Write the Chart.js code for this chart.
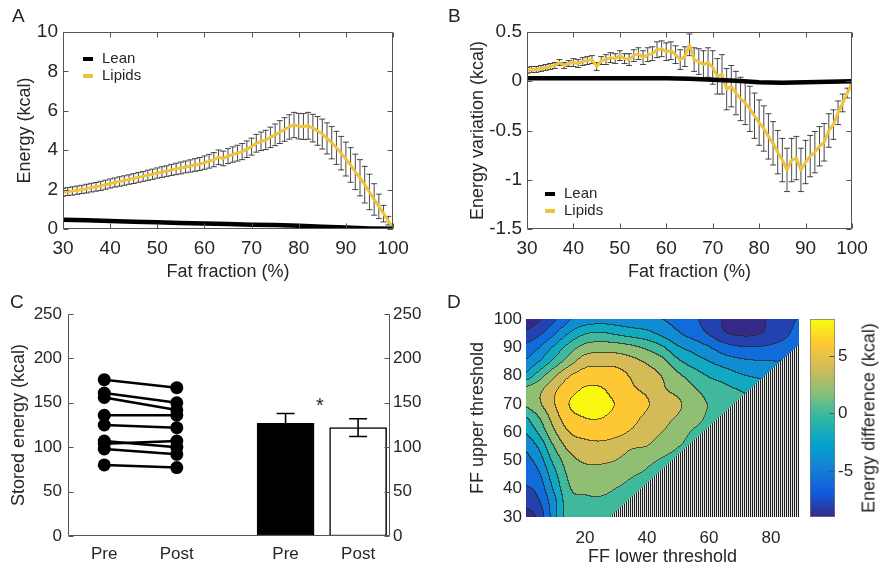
<!DOCTYPE html>
<html>
<head>
<meta charset="utf-8">
<script src="https://cdn.jsdelivr.net/npm/chart.js@4.4.1/dist/chart.umd.min.js"></script>
<style>
  html, body { margin: 0; padding: 0; background: #fff; }
  #fig { position: relative; width: 879px; height: 570px; overflow: hidden;
         font-family: "Liberation Sans", Arial, sans-serif; color: #262626; }
  #fig canvas { position: absolute; }
  .tag { position: absolute; font-size: 19px; line-height: 1; }
  .key { position: absolute; font-size: 15px; line-height: 17px; white-space: nowrap; }
  .key i { display: inline-block; width: 10px; height: 4px; margin-right: 9px; vertical-align: middle; }
  .note { position: absolute; font-size: 20px; line-height: 1; transform: translate(-50%, -50%); }
  .cbar-title { position: absolute; font-size: 18px; white-space: nowrap;
                transform: translate(-50%, -50%) rotate(-90deg); }
</style>
</head>
<body>
<div id="fig">
  <canvas id="panelA" width="440" height="290" style="left:0;top:0"></canvas>
  <canvas id="panelB" width="439" height="290" style="left:440px;top:0"></canvas>
  <canvas id="panelC" width="440" height="280" style="left:0;top:290px"></canvas>
  <canvas id="panelD" width="360" height="280" style="left:440px;top:290px"></canvas>
  <canvas id="panelDbar" width="79" height="280" style="left:800px;top:290px"></canvas>

  <div class="tag" style="left:12px;top:6px">A</div>
  <div class="tag" style="left:448px;top:6px">B</div>
  <div class="tag" style="left:10px;top:292px">C</div>
  <div class="tag" style="left:447px;top:292px">D</div>

  <div class="key" style="left:83px;top:49px">
    <div><i style="background:#000"></i>Lean</div>
    <div><i style="background:#efc33a"></i>Lipids</div>
  </div>
  <div class="key" style="left:545px;top:184px">
    <div><i style="background:#000"></i>Lean</div>
    <div><i style="background:#efc33a"></i>Lipids</div>
  </div>

  <div class="note" style="left:320px;top:405px">*</div>
  <div class="cbar-title" style="left:869px;top:418px">Energy difference (kcal)</div>
</div>

<script>
// ---- energy per fat fraction (panels A and B) ----
const fatFraction = [30,31,32,33,34,35,36,37,38,39,40,41,42,43,44,45,46,47,48,49,
  50,51,52,53,54,55,56,57,58,59,60,61,62,63,64,65,66,67,68,69,
  70,71,72,73,74,75,76,77,78,79,80,81,82,83,84,85,86,87,88,89,
  90,91,92,93,94,95,96,97,98,99,100];

const lipidsEnergy = [1.86,1.90,1.93,1.97,2.01,2.05,2.10,2.14,2.19,2.25,
  2.31,2.36,2.41,2.46,2.51,2.56,2.62,2.67,2.73,2.78,
  2.84,2.89,2.94,3.00,3.05,3.10,3.15,3.20,3.25,3.30,
  3.37,3.44,3.52,3.64,3.58,3.70,3.78,3.85,3.93,4.05,
  4.18,4.35,4.45,4.52,4.65,4.78,4.92,5.05,5.18,5.28,
  5.22,5.20,5.24,5.12,4.98,4.82,4.60,4.38,4.12,3.85,
  3.55,3.25,2.90,2.60,2.25,1.88,1.50,1.15,0.78,0.42,0.05];

const lipidsEnergySd = [0.20,0.20,0.21,0.21,0.21,0.22,0.22,0.22,0.23,0.23,
  0.23,0.23,0.24,0.24,0.24,0.25,0.25,0.25,0.26,0.26,
  0.26,0.27,0.27,0.28,0.29,0.30,0.30,0.31,0.32,0.33,
  0.34,0.35,0.36,0.37,0.37,0.38,0.39,0.40,0.41,0.42,
  0.43,0.45,0.47,0.49,0.52,0.55,0.58,0.60,0.62,0.64,
  0.65,0.66,0.68,0.70,0.73,0.76,0.79,0.82,0.84,0.85,
  0.86,0.88,0.90,0.92,0.93,0.90,0.80,0.62,0.42,0.22,0.06];

const leanFraction = [30,35,40,45,50,55,60,65,70,75,80,85,90,95,100];
const leanEnergy = [0.47,0.44,0.41,0.37,0.34,0.31,0.28,0.25,0.22,0.20,0.17,0.12,0.07,0.03,0.01];

const lipidsVariation = [0.11,0.12,0.12,0.13,0.14,0.15,0.16,0.19,0.16,0.18,
  0.19,0.18,0.20,0.21,0.22,0.15,0.21,0.22,0.24,0.23,
  0.26,0.23,0.22,0.26,0.28,0.24,0.27,0.28,0.32,0.33,
  0.30,0.31,0.27,0.22,0.25,0.37,0.22,0.20,0.17,0.19,
  0.14,0.05,0.07,-0.08,-0.05,-0.12,-0.18,-0.22,-0.28,-0.35,
  -0.42,-0.48,-0.56,-0.63,-0.72,-0.80,-0.90,-0.80,-0.78,-0.90,
  -0.82,-0.76,-0.72,-0.66,-0.62,-0.50,-0.44,-0.32,-0.22,-0.12,-0.02];

const lipidsVariationSd = [0.03,0.03,0.03,0.03,0.03,0.03,0.03,0.03,0.03,0.03,
  0.04,0.04,0.04,0.04,0.04,0.04,0.04,0.05,0.05,0.05,
  0.05,0.05,0.06,0.06,0.06,0.07,0.07,0.07,0.08,0.08,
  0.09,0.09,0.09,0.10,0.10,0.11,0.12,0.13,0.14,0.15,
  0.17,0.18,0.20,0.21,0.21,0.22,0.22,0.22,0.23,0.23,
  0.23,0.23,0.23,0.22,0.22,0.22,0.22,0.22,0.22,0.22,
  0.22,0.21,0.21,0.20,0.19,0.17,0.15,0.12,0.09,0.05,0.02];

const leanVariation = [0.03,0.03,0.03,0.03,0.03,0.03,0.03,0.025,0.015,0.005,-0.01,-0.015,-0.01,-0.005,0];

// ---- stored energy, pre vs post (panel C) ----
const storedPre = [176,161,156,136,125,107,104,98,80];
const storedPost = [167,150,142,136,122,100,107,92,77];
const storedMean = [126.9,122];
const storedSem = [11,10];
const pairX = [1,2];
const barX = [3.5,4.5];
const visitTicks = [1,2,3.5,4.5];
const visitLabels = ['Pre','Post','Pre','Post'];

// ---- threshold scan (panel D): rows are upper threshold, columns lower threshold ----
const lowerThreshold = [0,5,10,15,20,25,30,35,40,45,50,55,60,65,70,75,80,85,90];
const upperThreshold = [30,35,40,45,50,55,60,65,70,75,80,85,90,95,100];
const energyDiff = [
  [-8.9,-7.6,-3.0,1.0,0.9,0.8,0.6,0.5,0.5,0.5,0.5,0.5,0.5,0.5,0.5,0.5,0.5,0.5,0.5],
  [-7.6,-6.4,-2.8,1.2,1.5,1.6,1.2,0.8,0.5,0.5,0.5,0.5,0.5,0.5,0.5,0.5,0.5,0.5,0.5],
  [-6.3,-5.4,-1.8,1.8,2.4,2.5,2.0,1.5,0.9,0.5,0.5,0.5,0.5,0.5,0.5,0.5,0.5,0.5,0.5],
  [-5.5,-4.4,-0.8,2.4,3.0,3.1,2.8,2.2,1.7,1.0,0.5,0.5,0.5,0.5,0.5,0.5,0.5,0.5,0.5],
  [-4.8,-3.2,0.5,3.2,4.3,4.4,4.0,3.2,2.5,1.8,1.2,0.6,0.5,0.5,0.5,0.5,0.5,0.5,0.5],
  [-3.8,-1.8,2.0,4.6,5.3,5.5,5.1,4.3,4.0,3.0,2.1,1.3,0.8,0.5,0.5,0.5,0.5,0.5,0.5],
  [-2.2,0.2,3.6,6.0,6.8,7.0,6.6,5.8,4.8,4.0,3.0,1.8,1.2,0.8,0.5,0.5,0.5,0.5,0.5],
  [-0.4,1.8,4.8,7.3,8.0,8.05,7.5,6.6,5.6,4.6,3.8,2.8,1.7,1.2,0.8,0.5,0.5,0.5,0.5],
  [2.3,3.6,5.8,8.0,8.35,8.35,7.95,7.0,6.2,5.0,4.3,3.0,1.9,1.2,0.6,0.3,0.3,0.3,0.3],
  [2.4,3.4,5.5,7.3,8.15,8.15,7.4,6.3,5.6,4.3,3.4,2.3,1.2,0.5,-0.1,-0.6,-1.0,-1.4,-1.8],
  [-1.8,0.8,3.5,5.8,6.9,7.0,6.8,5.8,4.8,3.9,2.4,1.0,-0.2,-0.9,-1.8,-2.3,-2.6,-2.9,-3.1],
  [-4.0,-2.2,0.5,3.0,5.0,5.3,5.2,4.6,3.7,2.6,0.4,-1.0,-2.0,-3.0,-3.6,-3.9,-4.0,-4.0,-4.0],
  [-5.7,-4.2,-1.8,0.8,2.6,3.0,2.9,2.4,1.5,0.2,-1.8,-2.8,-3.9,-5.2,-5.9,-6.0,-5.7,-5.2,-4.6],
  [-7.8,-6.6,-4.4,-2.0,-0.3,0.1,-0.4,-1.0,-1.5,-2.6,-3.8,-4.9,-6.2,-7.8,-8.4,-8.3,-7.4,-6.3,-5.2],
  [-9.2,-8.3,-6.4,-4.2,-3.2,-2.9,-3.0,-3.3,-3.5,-4.0,-4.6,-5.6,-6.8,-8.2,-8.8,-8.6,-7.7,-6.6,-5.8]
];
const contourLevels = [-8,-6,-4,-2,0,2,4,6,8];
const colorLimits = [-9,8.2];
const colorTicks = [-5,0,5];
const lowerTicks = [20,40,60,80];
// invalid combinations (upper below lower threshold) are hatched
const maskLower = [28,89];
const maskUpper = [30,91];

const INK = '#262626';
const AXIS = '#555';
const GOLD = '#efc33a';
Chart.defaults.font.family = '"Liberation Sans", Arial, sans-serif';
Chart.defaults.color = INK;

// parula-like colormap stops
const parula = ['#352a87','#0f5cdd','#1481d6','#06a4ca','#2eb7a4','#87bf77','#d1bb59','#fec832','#f9fb0e'];
const parulaRgb = parula.map(h => [1,3,5].map(i => parseInt(h.substr(i,2),16)));

function colorAt(v) {
  let t = (v - colorLimits[0]) / (colorLimits[1] - colorLimits[0]);
  t = Math.min(1, Math.max(0, t)) * (parulaRgb.length - 1);
  const i = Math.min(parulaRgb.length - 2, Math.floor(t)), f = t - i;
  return parulaRgb[i].map((c, k) => Math.round(c + (parulaRgb[i+1][k] - c) * f));
}

// smooth (Catmull-Rom) lookup into the scan grid
function cubic(p0, p1, p2, p3, t) {
  return p1 + 0.5 * t * (p2 - p0 + t * (2*p0 - 5*p1 + 4*p2 - p3 + t * (3*(p1 - p2) + p3 - p0)));
}
function gridValue(xv, yv) {
  const locate = (arr, v) => {
    let i = 0;
    while (i < arr.length - 2 && v > arr[i+1]) i++;
    return [i, Math.min(1, Math.max(0, (v - arr[i]) / (arr[i+1] - arr[i])))];
  };
  const [i, fx] = locate(lowerThreshold, xv);
  const [j, fy] = locate(upperThreshold, yv);
  const nx = lowerThreshold.length, ny = upperThreshold.length;
  const at = (r, c) => energyDiff[Math.min(ny-1, Math.max(0, r))][Math.min(nx-1, Math.max(0, c))];
  const rows = [-1, 0, 1, 2].map(d =>
    cubic(at(j+d, i-1), at(j+d, i), at(j+d, i+1), at(j+d, i+2), fx));
  return cubic(rows[0], rows[1], rows[2], rows[3], fy);
}

// box lines and inward tick marks
const axesBox = {
  id: 'axesBox',
  afterDatasetsDraw(chart, args, o) {
    const {ctx, chartArea: a} = chart;
    const L = Math.round(a.left) + 0.5, R = Math.round(a.right) - 0.5;
    const T = Math.round(a.top) + 0.5, B = Math.round(a.bottom) - 0.5;
    const len = 5;
    ctx.save();
    ctx.strokeStyle = AXIS;
    ctx.lineWidth = 1;
    ctx.beginPath();
    const edges = o.edges || [];
    if (edges.includes('top')) { ctx.moveTo(L, T); ctx.lineTo(R, T); }
    if (edges.includes('bottom')) { ctx.moveTo(L, B); ctx.lineTo(R, B); }
    if (edges.includes('left')) { ctx.moveTo(L, T); ctx.lineTo(L, B); }
    if (edges.includes('right')) { ctx.moveTo(R, T); ctx.lineTo(R, B); }
    (o.ticks || []).forEach(({axis, sides}) => {
      const s = chart.scales[axis];
      s.ticks.forEach(t => {
        const p = Math.round(s.getPixelForValue(t.value)) + 0.5;
        sides.forEach(side => {
          if (side === 'bottom') { ctx.moveTo(p, B); ctx.lineTo(p, B - len); }
          if (side === 'top') { ctx.moveTo(p, T); ctx.lineTo(p, T + len); }
          if (side === 'left') { ctx.moveTo(L, p); ctx.lineTo(L + len, p); }
          if (side === 'right') { ctx.moveTo(R, p); ctx.lineTo(R - len, p); }
        });
      });
    });
    ctx.stroke();
    ctx.restore();
  }
};

// vertical error bars read from dataset.errors
function drawErrors(chart, index, layer) {
  const ds = chart.data.datasets[index];
  if (!ds.errors || (ds.errorLayer || 'under') !== layer) return;
  const meta = chart.getDatasetMeta(index);
  const xs = chart.scales[meta.xAxisID], ys = chart.scales[meta.yAxisID];
  const {ctx, chartArea: a} = chart;
  const cap = (ds.errorCap || 6) / 2;
  ctx.save();
  ctx.beginPath();
  ctx.rect(a.left, a.top - 2, a.right - a.left, a.bottom - a.top + 4);
  ctx.clip();
  ctx.strokeStyle = ds.errorColor || '#1a1a1a';
  ctx.lineWidth = ds.errorWidth || 0.8;
  ctx.beginPath();
  ds.data.forEach((p, i) => {
    const e = ds.errors[i];
    const px = xs.getPixelForValue(p.x);
    const top = ys.getPixelForValue(p.y + e), bot = ys.getPixelForValue(p.y - e);
    ctx.moveTo(px, top); ctx.lineTo(px, bot);
    ctx.moveTo(px - cap, top); ctx.lineTo(px + cap, top);
    ctx.moveTo(px - cap, bot); ctx.lineTo(px + cap, bot);
  });
  ctx.stroke();
  ctx.restore();
}
const errorBars = {
  id: 'errorBars',
  beforeDatasetDraw(chart, args) { drawErrors(chart, args.index, 'under'); },
  afterDatasetDraw(chart, args) { drawErrors(chart, args.index, 'over'); }
};

// filled contour bands with thin dark boundaries
const contourFill = {
  id: 'contourFill',
  beforeDatasetsDraw(chart) {
    const {ctx, chartArea: a, scales: {x, y}} = chart;
    const x0 = Math.round(a.left), y0 = Math.round(a.top);
    const w = Math.round(a.right) - x0, h = Math.round(a.bottom) - y0;
    const band = new Int8Array(w * h);
    for (let j = 0; j < h; j++) {
      const yv = y.getValueForPixel(y0 + j + 0.5);
      for (let i = 0; i < w; i++) {
        const v = gridValue(x.getValueForPixel(x0 + i + 0.5), yv);
        let k = 0;
        while (k < contourLevels.length && v >= contourLevels[k]) k++;
        band[j * w + i] = k;
      }
    }
    const palette = [colorAt(colorLimits[0])].concat(contourLevels.map(colorAt));
    const img = ctx.createImageData(w, h);
    for (let j = 0; j < h; j++) {
      for (let i = 0; i < w; i++) {
        const n = j * w + i, k = band[n];
        const edge = (i + 1 < w && band[n + 1] !== k) || (j + 1 < h && band[n + w] !== k);
        const c = palette[k];
        const o = n * 4;
        for (let q = 0; q < 3; q++) img.data[o + q] = edge ? Math.round(c[q] * 0.25 + 30) : c[q];
        img.data[o + 3] = 255;
      }
    }
    ctx.putImageData(img, x0, y0);
  }
};

function stripes() {
  const c = document.createElement('canvas');
  c.width = 2; c.height = 1;
  const g = c.getContext('2d');
  g.fillStyle = '#e6e6e6'; g.fillRect(0, 0, 2, 1);
  g.fillStyle = '#1e1e1e'; g.fillRect(0, 0, 1, 1);
  return g.createPattern(c, 'repeat');
}

const titleFont = {size: 18};
const noGrid = {display: false, drawTicks: false};
const plainLabel = v => String(v);

function energyPanel(id, o) {
  return new Chart(document.getElementById(id), {
    type: 'line',
    data: {
      datasets: [
        {
          data: leanFraction.map((f, i) => ({x: f, y: o.lean[i]})),
          borderColor: '#000', borderWidth: 4.5, pointRadius: 0
        },
        {
          data: fatFraction.map((f, i) => ({x: f, y: o.lipids[i]})),
          borderColor: GOLD, borderWidth: 3, pointRadius: 0, borderJoinStyle: 'round',
          errors: o.spread, errorCap: 6
        }
      ]
    },
    options: {
      responsive: false, animation: false,
      layout: {padding: {top: 32, right: o.right}},
      plugins: {
        legend: {display: false}, tooltip: {enabled: false},
        axesBox: {
          edges: ['top', 'bottom', 'left', 'right'],
          ticks: [{axis: 'x', sides: ['bottom', 'top']}, {axis: 'y', sides: ['left', 'right']}]
        }
      },
      scales: {
        x: {
          type: 'linear', min: 30, max: 100,
          ticks: {stepSize: 10, font: {size: 19}, padding: 8, maxRotation: 0, callback: plainLabel},
          grid: noGrid, border: {display: false},
          title: {display: true, text: 'Fat fraction (%)', font: titleFont, padding: {top: 0, bottom: 7}},
          afterFit: s => { s.height = 61; }
        },
        y: {
          min: o.yMin, max: o.yMax,
          ticks: {stepSize: o.yStep, font: {size: 19}, padding: 5, callback: plainLabel},
          grid: noGrid, border: {display: false},
          title: {display: true, text: o.yTitle, font: titleFont, padding: {top: o.titlePad, bottom: 0}},
          afterFit: s => { s.width = o.left; }
        }
      }
    },
    plugins: [axesBox, errorBars]
  });
}

energyPanel('panelA', {
  lean: leanEnergy, lipids: lipidsEnergy, spread: lipidsEnergySd,
  yMin: 0, yMax: 10, yStep: 2, yTitle: 'Energy (kcal)', titlePad: 14, left: 63, right: 47
});
energyPanel('panelB', {
  lean: leanVariation, lipids: lipidsVariation, spread: lipidsVariationSd,
  yMin: -1.5, yMax: 0.5, yStep: 0.5, yTitle: 'Energy variation (kcal)', titlePad: 27, left: 87, right: 27
});

// panel C: paired subjects on the left, group means on the right
new Chart(document.getElementById('panelC'), {
  type: 'bar',
  data: {
    datasets: storedPre.map((v, i) => ({
      type: 'line',
      data: [{x: pairX[0], y: v}, {x: pairX[1], y: storedPost[i]}],
      borderColor: '#000', borderWidth: 2.5,
      pointRadius: 6.5, pointBackgroundColor: '#000', pointBorderWidth: 0
    })).concat([{
      type: 'bar',
      data: barX.map((x, i) => ({x: x, y: storedMean[i]})),
      backgroundColor: ['#000', '#fff'], borderColor: '#000', borderWidth: 1.5,
      borderSkipped: false, barThickness: 57,
      errors: storedSem, errorLayer: 'over', errorCap: 18, errorWidth: 1.6, errorColor: '#000'
    }])
  },
  options: {
    responsive: false, animation: false,
    layout: {padding: {top: 24}},
    plugins: {
      legend: {display: false}, tooltip: {enabled: false},
      axesBox: {
        edges: ['left', 'bottom', 'right'],
        ticks: [{axis: 'y', sides: ['left']}, {axis: 'y2', sides: ['right']}]
      }
    },
    scales: {
      x: {
        type: 'linear', min: 0.5, max: 4.94, offset: false,
        afterBuildTicks: s => { s.ticks = visitTicks.map(v => ({value: v})); },
        ticks: {font: {size: 17}, padding: 8, autoSkip: false, maxRotation: 0,
                callback: v => visitLabels[visitTicks.indexOf(v)]},
        grid: noGrid, border: {display: false},
        afterFit: s => { s.height = 34; }
      },
      y: {
        min: 0, max: 250,
        ticks: {stepSize: 50, font: {size: 17}, padding: 6},
        grid: noGrid, border: {display: false},
        title: {display: true, text: 'Stored energy (kcal)', font: titleFont, padding: {top: 8, bottom: 0}},
        afterFit: s => { s.width = 68; }
      },
      y2: {
        position: 'right', min: 0, max: 250,
        ticks: {stepSize: 50, font: {size: 17}, padding: 3},
        grid: noGrid, border: {display: false},
        afterFit: s => { s.width = 50; }
      }
    }
  },
  plugins: [axesBox, errorBars]
});

// panel D: contour map of energy difference
new Chart(document.getElementById('panelD'), {
  type: 'line',
  data: {
    datasets: [{
      data: maskLower.map((x, i) => ({x: x, y: maskUpper[i]})),
      fill: 'start', backgroundColor: stripes(),
      borderColor: 'transparent', borderWidth: 0, pointRadius: 0
    }]
  },
  options: {
    responsive: false, animation: false,
    layout: {padding: {top: 29, right: 1}},
    plugins: {legend: {display: false}, tooltip: {enabled: false}},
    scales: {
      x: {
        type: 'linear', min: 1, max: 89,
        afterBuildTicks: s => { s.ticks = lowerTicks.map(v => ({value: v})); },
        ticks: {font: {size: 17}, padding: 11, maxRotation: 0},
        grid: noGrid, border: {display: false},
        title: {display: true, text: 'FF lower threshold', font: titleFont, padding: {top: 0, bottom: 2}},
        afterFit: s => { s.height = 53; }
      },
      y: {
        min: 30, max: 100,
        ticks: {stepSize: 10, font: {size: 17}, padding: 4},
        grid: noGrid, border: {display: false},
        title: {display: true, text: 'FF upper threshold', font: titleFont, padding: {top: 27, bottom: 0}},
        afterFit: s => { s.width = 86; }
      }
    }
  },
  plugins: [contourFill]
});

// colour bar for panel D
new Chart(document.getElementById('panelDbar'), {
  type: 'bar',
  data: {
    labels: [''],
    datasets: [{
      data: [colorLimits],
      backgroundColor: ctx => {
        const a = ctx.chart.chartArea;
        if (!a) return '#888';
        const g = ctx.chart.ctx.createLinearGradient(0, a.bottom, 0, a.top);
        parula.forEach((c, i) => g.addColorStop(i / (parula.length - 1), c));
        return g;
      },
      borderColor: '#777', borderWidth: 1, borderSkipped: false,
      barPercentage: 1, categoryPercentage: 1
    }]
  },
  options: {
    responsive: false, animation: false,
    layout: {padding: {left: 10, top: 29, bottom: 53}},
    plugins: {
      legend: {display: false}, tooltip: {enabled: false},
      axesBox: {ticks: [{axis: 'y', sides: ['right']}]}
    },
    scales: {
      x: {display: false},
      y: {
        position: 'right', min: colorLimits[0], max: colorLimits[1],
        afterBuildTicks: s => { s.ticks = colorTicks.map(v => ({value: v})); },
        ticks: {font: {size: 17}, padding: 3},
        grid: noGrid, border: {display: false},
        afterFit: s => { s.width = 44; }
      }
    }
  },
  plugins: [axesBox]
});
</script>
</body>
</html>
